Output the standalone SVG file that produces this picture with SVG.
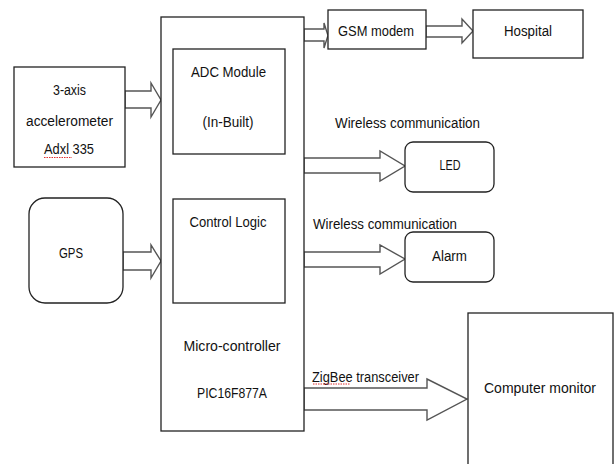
<svg xmlns="http://www.w3.org/2000/svg" width="616" height="464" viewBox="0 0 616 464">
<style>
.box{fill:#fff;stroke:#222;stroke-width:1.3}
.arr{fill:#fff;stroke:#555;stroke-width:1.4;stroke-linejoin:miter}
text{font-family:"Liberation Sans",Arial,sans-serif;font-size:14px;fill:#111}
.c{text-anchor:middle}
.sq{fill:none;stroke:#e03030;stroke-width:1;stroke-dasharray:1.5 1}
</style>
<rect width="616" height="464" fill="#fff"/>
<g id="connectors">
<polygon class="arr" points="125,91 151,91 151,83 161,100 151,117 151,108 125,108"/>
<polygon class="arr" points="123,252 151,252 151,245 161,261 151,278 151,270 123,270"/>
<polygon class="arr" points="304,29 324,29 324,23 328,35.5 324,48 324,41 304,41"/>
<polygon class="arr" points="426,26 462,26 462,19 473,31 462,43 462,37 426,37"/>
<polygon class="arr" points="304,158 380,158 380,151 405,166 380,181 380,173 304,173"/>
<polygon class="arr" points="304,252 380,252 380,245 405,259 380,274 380,267 304,267"/>
<polygon class="arr" points="304,388 427,388 427,379 467,399 427,420 427,410 304,410"/>
<text x="335" y="128" textLength="145" lengthAdjust="spacingAndGlyphs">Wireless communication</text>
<text x="313" y="229" textLength="144" lengthAdjust="spacingAndGlyphs">Wireless communication</text>
<text x="312" y="382" textLength="107" lengthAdjust="spacingAndGlyphs">ZigBee transceiver</text>
<path class="sq" d="M313,384 L350,384"/>
</g>
<g id="microcontroller">
<rect class="box" x="161" y="17" width="143" height="414"/>
<text class="c" x="232" y="351" textLength="97" lengthAdjust="spacingAndGlyphs">Micro-controller</text>
<text class="c" x="232" y="398" textLength="70" lengthAdjust="spacingAndGlyphs">PIC16F877A</text>
</g>
<g id="adc">
<rect class="box" x="173" y="49" width="112" height="105"/>
<text class="c" x="228.5" y="77" textLength="75" lengthAdjust="spacingAndGlyphs">ADC Module</text>
<text class="c" x="228" y="127" textLength="51" lengthAdjust="spacingAndGlyphs">(In-Built)</text>
</g>
<g id="control-logic">
<rect class="box" x="173" y="199" width="112" height="104"/>
<text class="c" x="228" y="227" textLength="77" lengthAdjust="spacingAndGlyphs">Control Logic</text>
</g>
<g id="accelerometer">
<rect class="box" x="14" y="67" width="111" height="100"/>
<text class="c" x="69.5" y="95" textLength="33" lengthAdjust="spacingAndGlyphs">3-axis</text>
<text class="c" x="69.5" y="126" textLength="87" lengthAdjust="spacingAndGlyphs">accelerometer</text>
<text class="c" x="69" y="154" textLength="50" lengthAdjust="spacingAndGlyphs">Adxl 335</text>
<path class="sq" d="M44,157.5 L72,157.5"/>
</g>
<g id="gps">
<rect class="box" x="29" y="198" width="94" height="105" rx="16" ry="16"/>
<text class="c" x="71" y="258" textLength="24" lengthAdjust="spacingAndGlyphs">GPS</text>
</g>
<g id="gsm">
<rect class="box" x="328" y="10" width="98" height="39"/>
<text class="c" x="376" y="36" textLength="76" lengthAdjust="spacingAndGlyphs">GSM modem</text>
</g>
<g id="hospital">
<rect class="box" x="473" y="10" width="110" height="48"/>
<text class="c" x="528" y="36" textLength="48" lengthAdjust="spacingAndGlyphs">Hospital</text>
</g>
<g id="led">
<rect class="box" x="405" y="142" width="89" height="50" rx="8" ry="8"/>
<text class="c" x="450" y="170" textLength="21" lengthAdjust="spacingAndGlyphs">LED</text>
</g>
<g id="alarm">
<rect class="box" x="405" y="232" width="89" height="50" rx="8" ry="8"/>
<text class="c" x="449.5" y="261" textLength="35" lengthAdjust="spacingAndGlyphs">Alarm</text>
</g>
<g id="computer-monitor">
<rect class="box" x="468" y="313" width="145" height="160"/>
<text class="c" x="540" y="393" textLength="112" lengthAdjust="spacingAndGlyphs">Computer monitor</text>
</g>
</svg>
